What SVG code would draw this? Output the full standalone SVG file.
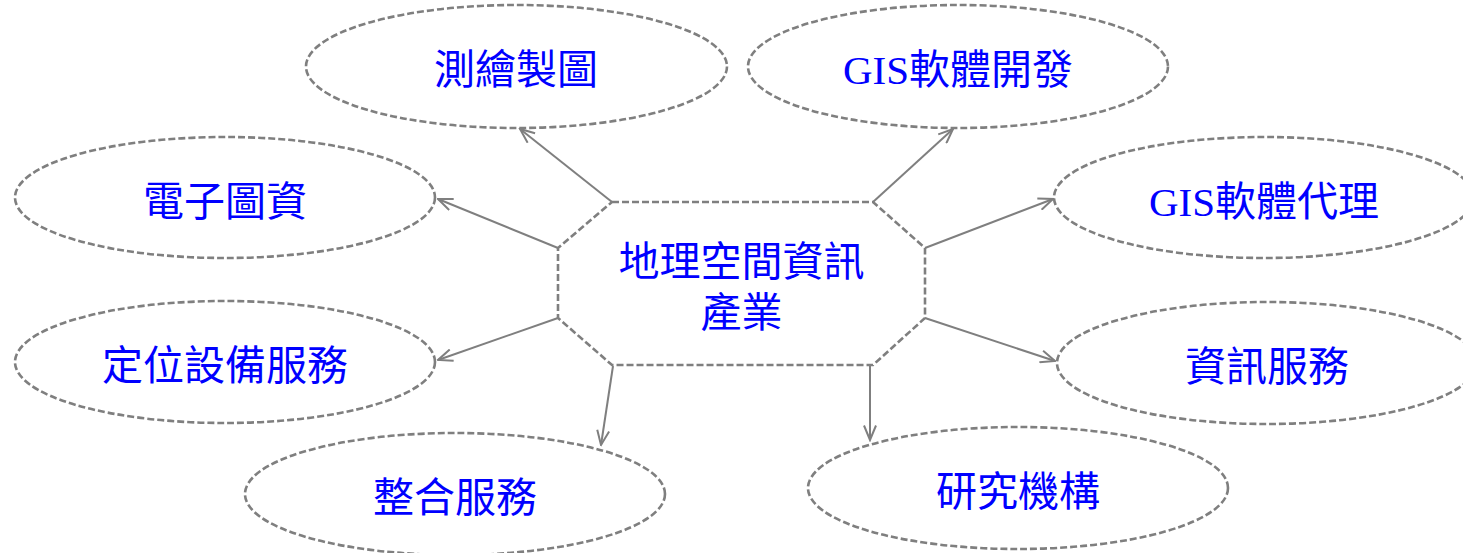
<svg xmlns="http://www.w3.org/2000/svg" width="1463" height="553" viewBox="0 0 1463 553">
<style>
.shape{fill:#ffffff;stroke:#7f7f7f;stroke-width:2.6;stroke-dasharray:7 3}
.lbl{font-family:"Liberation Serif","Noto Sans CJK TC",serif;font-size:41px;fill:#0000ff;text-anchor:middle}
.conn{stroke:#7f7f7f;stroke-width:2;fill:none;marker-end:url(#arr)}
</style>
<defs>
<marker id="arr" viewBox="0 0 18 14" refX="16.5" refY="7" markerWidth="18" markerHeight="14" markerUnits="userSpaceOnUse" orient="auto">
<path d="M2,1 L16.5,7 L2,13" fill="none" stroke="#7f7f7f" stroke-width="2"/>
</marker>
</defs>
<rect width="1463" height="553" fill="#ffffff"/>
<g id="connectors">
<line class="conn" x1="612" y1="202" x2="520" y2="129"/>
<line class="conn" x1="873" y1="202" x2="953" y2="129"/>
<line class="conn" x1="558" y1="248" x2="438" y2="199"/>
<line class="conn" x1="925" y1="248" x2="1053" y2="199"/>
<line class="conn" x1="558" y1="318" x2="438" y2="360"/>
<line class="conn" x1="925" y1="318" x2="1055" y2="361"/>
<line class="conn" x1="613" y1="366" x2="601" y2="445"/>
<line class="conn" x1="870" y1="366" x2="870" y2="440"/>
</g>
<g id="center">
<polygon class="shape" points="612,202 873,202 925,248 925,318 873,365 612,365 558,318 558,248"/>
<text class="lbl" x="741.5" y="276">地理空間資訊</text>
<text class="lbl" x="741.5" y="327">產業</text>
</g>
<g id="n1">
<ellipse class="shape" cx="516.5" cy="66.5" rx="210.5" ry="61.5"/>
<text class="lbl" x="516" y="84">測繪製圖</text>
</g>
<g id="n2">
<ellipse class="shape" cx="958" cy="66.5" rx="210" ry="61.5"/>
<text class="lbl" x="958" y="84">GIS軟體開發</text>
</g>
<g id="n3">
<ellipse class="shape" cx="225" cy="197.5" rx="210" ry="60.5"/>
<text class="lbl" x="225" y="216">電子圖資</text>
</g>
<g id="n4">
<ellipse class="shape" cx="1264" cy="197.5" rx="210" ry="60.5"/>
<text class="lbl" x="1264" y="216">GIS軟體代理</text>
</g>
<g id="n5">
<ellipse class="shape" cx="225" cy="362" rx="210" ry="61"/>
<text class="lbl" x="225" y="380">定位設備服務</text>
</g>
<g id="n6">
<ellipse class="shape" cx="1267" cy="363" rx="210" ry="61"/>
<text class="lbl" x="1267" y="381">資訊服務</text>
</g>
<g id="n7">
<ellipse class="shape" cx="455" cy="494" rx="210" ry="61"/>
<text class="lbl" x="455" y="512">整合服務</text>
</g>
<g id="n8">
<ellipse class="shape" cx="1018" cy="488" rx="210" ry="61"/>
<text class="lbl" x="1018" y="506">研究機構</text>
</g>
</svg>
